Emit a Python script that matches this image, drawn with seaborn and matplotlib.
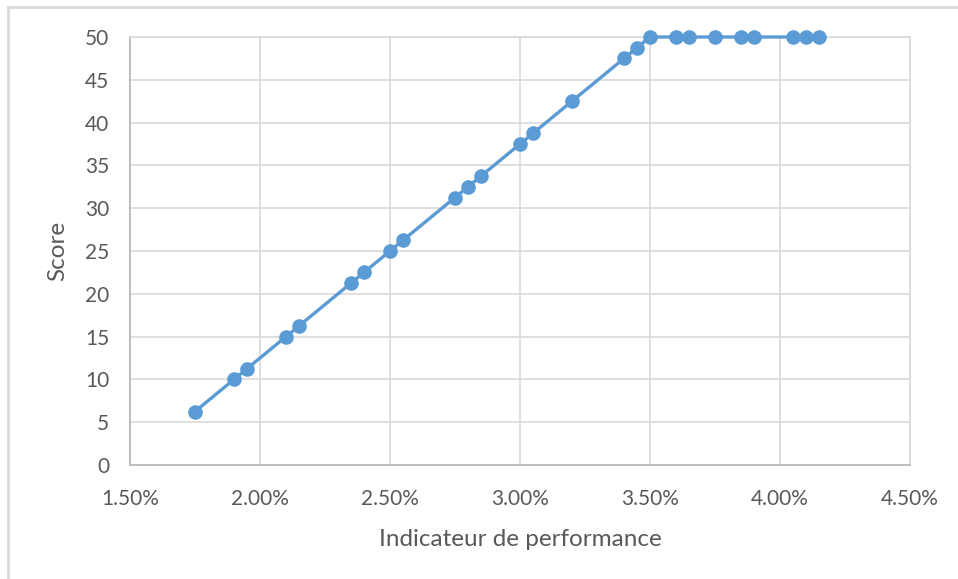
import matplotlib
matplotlib.use("Agg")
import matplotlib.pyplot as plt
import seaborn as sns
import pandas as pd
from matplotlib.patches import Rectangle
from matplotlib.ticker import FuncFormatter, MultipleLocator

indicateur = [1.75, 1.90, 1.95, 2.10, 2.15, 2.35, 2.40, 2.50, 2.55, 2.75, 2.80, 2.85,
              3.00, 3.05, 3.20, 3.40, 3.45, 3.50, 3.60, 3.65, 3.75, 3.85, 3.90,
              4.05, 4.10, 4.15]
score = [6.25, 10.0, 11.25, 15.0, 16.25, 21.25, 22.5, 25.0, 26.25, 31.25, 32.5, 33.75,
         37.5, 38.75, 42.5, 47.5, 48.75, 50, 50, 50, 50, 50, 50,
         50, 50, 50]

df = pd.DataFrame({"Indicateur de performance": indicateur, "Score": score})

sns.set_style("white")
plt.rcParams['font.family'] = ['Lato', 'DejaVu Sans']

fig = plt.figure(figsize=(9.58, 5.79), dpi=100)
ax = fig.add_axes([130/958, 1-465/579, 780/958, 428/579])

sns.lineplot(data=df, x="Indicateur de performance", y="Score", ax=ax,
             color="#5B9BD5", marker="o", markersize=10.5, linewidth=2.4,
             markeredgewidth=0, clip_on=False, zorder=3)

ax.set_xlim(1.5, 4.5)
ax.set_ylim(0, 50)
ax.xaxis.set_major_locator(MultipleLocator(0.5))
ax.yaxis.set_major_locator(MultipleLocator(5))
ax.xaxis.set_major_formatter(FuncFormatter(lambda v, p: f"{v:.2f}%"))
ax.grid(True, color="#D9D9D9", linewidth=1.2)
ax.set_axisbelow(True)

for side in ["top", "right"]:
    ax.spines[side].set_visible(True)
    ax.spines[side].set_color("#D9D9D9")
    ax.spines[side].set_linewidth(1.2)
for side in ["left", "bottom"]:
    ax.spines[side].set_color("#BFBFBF")
    ax.spines[side].set_linewidth(1.5)

ax.tick_params(axis="both", length=0, labelsize=15, labelcolor="#595959")
ax.tick_params(axis="x", pad=17)
ax.tick_params(axis="y", pad=15)
ax.set_xlabel("Indicateur de performance", fontsize=17.5, color="#595959", labelpad=15)
ax.set_ylabel("Score", fontsize=17.5, color="#595959", labelpad=12)

# Chart border (top and left edges visible)
fig.patches.append(Rectangle((8/958, -0.1), 2, 1 - 7/579 + 0.1, transform=fig.transFigure,
                             fill=False, edgecolor="#D9D9D9", linewidth=2, zorder=0))

fig.savefig("out.png", dpi=100)
